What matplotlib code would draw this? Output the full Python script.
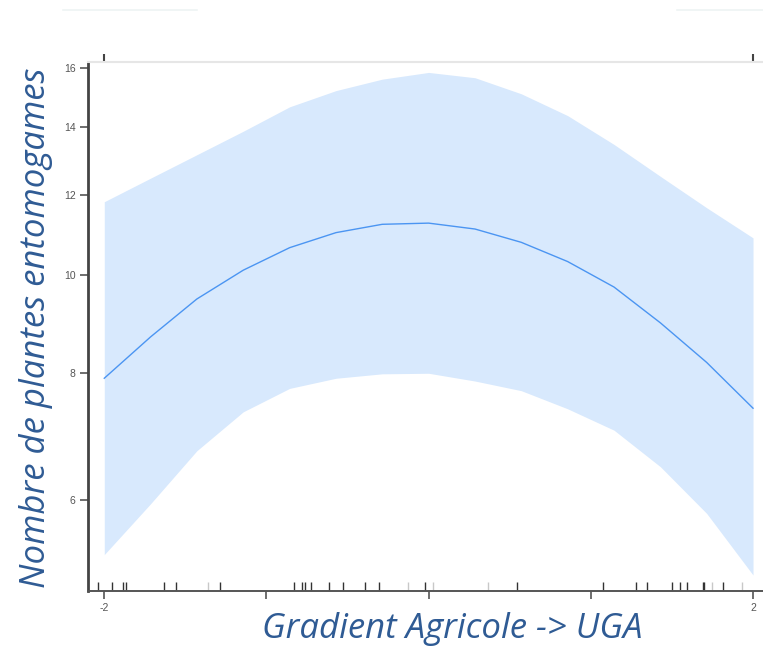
import matplotlib
matplotlib.use("Agg")
import matplotlib.pyplot as plt
from matplotlib.lines import Line2D

# valeurs (effet du gradient, echelle log)
gradient = [-2.0, -1.714, -1.429, -1.143, -0.857, -0.571, -0.286, 0.0,
            0.286, 0.571, 0.857, 1.143, 1.429, 1.714, 2.0]
ajuste = [7.91, 8.69, 9.47, 10.11, 10.64, 11.01, 11.22, 11.25,
          11.10, 10.77, 10.31, 9.73, 8.97, 8.20, 7.39]
borne_haute = [11.81, 12.46, 13.14, 13.86, 14.65, 15.20, 15.60, 15.84,
               15.65, 15.09, 14.36, 13.45, 12.51, 11.65, 10.88]
borne_basse = [5.30, 5.95, 6.71, 7.33, 7.73, 7.91, 7.99, 8.00,
               7.86, 7.69, 7.38, 7.03, 6.47, 5.82, 5.06]

# rug des observations
rug = [-2.04, -1.95, -1.885, -1.866, -1.632, -1.558, -1.287, -0.83, -0.78,
       -0.76, -0.725, -0.614, -0.528, -0.392, -0.306, -0.022, 0.545, 1.075,
       1.28, 1.346, 1.50, 1.55, 1.59, 1.69, 1.70, 1.815]
rug_clair = [-1.36, -0.127, 0.027, 0.366, 1.75, 1.93]

yticks = [6, 8, 10, 12, 14, 16]
xticks = [-2, -1, 0, 1, 2]
xtick_labels = ["-2", "", "", "", "2"]

titre_x = "Gradient Agricole -> UGA"
titre_y = "Nombre de plantes entomogames"
bleu_texte = "#2f5b94"

fig = plt.figure(figsize=(7.63, 6.47), dpi=100)
ax = fig.add_axes([0.1153, 0.0866, 0.8847, 0.8176])

ax.fill_between(gradient, borne_basse, borne_haute, color="#d8e9fd", lw=0)
ax.plot(gradient, ajuste, color="#4b95f2", lw=1.0)

ax.vlines(rug, 0, 0.017, transform=ax.get_xaxis_transform(), color="#333333", lw=1.0)
ax.vlines(rug_clair, 0, 0.017, transform=ax.get_xaxis_transform(), color="#c8c8c8", lw=1.0)

ax.set_yscale("log")
ax.set_xlim(-2.1005, 2.0615)
ax.set_ylim(4.88, 16.22)
ax.set_yticks(yticks)
ax.set_yticklabels([str(v) for v in yticks])
ax.yaxis.set_minor_locator(matplotlib.ticker.NullLocator())
ax.set_xticks(xticks)
ax.set_xticklabels(xtick_labels)

ax.tick_params(axis="both", direction="out", length=6, width=1.2, color="#555555",
               labelsize=7.5, labelcolor="#555555", pad=3)
for lab in ax.get_xticklabels() + ax.get_yticklabels():
    lab.set_family("Liberation Sans")

ax.spines["right"].set_visible(False)
ax.spines["left"].set_color("#444444")
ax.spines["left"].set_linewidth(2.0)
ax.spines["bottom"].set_color("#555555")
ax.spines["bottom"].set_linewidth(1.4)
ax.spines["top"].set_color("#e6e6e6")
ax.spines["top"].set_linewidth(1.5)

haut = ax.secondary_xaxis("top")
haut.set_xticks([-2, 2])
haut.set_xticklabels(["", ""])
haut.tick_params(direction="out", length=6, width=1.5, color="#444444")
haut.spines["top"].set_visible(False)

fig.text(452 / 763, 1 / 647, titre_x, ha="center", va="bottom", fontsize=25,
         style="italic", family="Open Sans", color=bleu_texte)
fig.text(45 / 763, 319.5 / 647, titre_y, ha="center", va="baseline", rotation=90,
         rotation_mode="anchor", fontsize=25, style="italic", family="Open Sans",
         color=bleu_texte)

# traits pales en haut de l'image
fig.add_artist(Line2D([63 / 763, 197 / 763], [637 / 647, 637 / 647], color="#eef4f4", lw=1.2))
fig.add_artist(Line2D([677 / 763, 1.0], [637 / 647, 637 / 647], color="#eef4f4", lw=1.2))

fig.savefig("out.png", dpi=100)
